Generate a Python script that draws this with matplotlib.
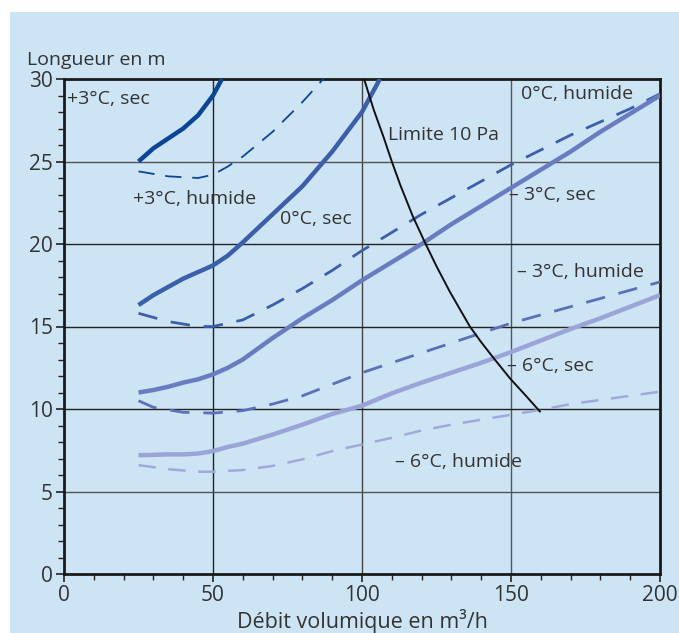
import numpy as np
import matplotlib
matplotlib.use('Agg')
import matplotlib.pyplot as plt
from matplotlib.patches import Rectangle

plt.rcParams['font.family'] = ['Open Sans', 'DejaVu Sans']

#%% data (x: m3/h, y: m)
x_p3_sec = [25, 30, 35, 40, 45, 50, 53]
y_p3_sec = [25.0, 25.8, 26.4, 27.0, 27.8, 29.0, 30.0]

x_p3_hum = [25, 35, 45, 50, 55, 60, 70, 80, 87]
y_p3_hum = [24.4, 24.1, 24.0, 24.2, 24.7, 25.3, 26.8, 28.6, 30.0]

x_0_sec = [25, 30, 35, 40, 45, 50, 55, 60, 70, 80, 90, 100, 106]
y_0_sec = [16.3, 16.9, 17.4, 17.9, 18.3, 18.7, 19.3, 20.1, 21.8, 23.5, 25.6, 28.0, 30.0]

x_0_hum = [25, 35, 45, 50, 60, 70, 80, 90, 100, 110, 120, 130, 140, 150, 160, 170, 180, 190, 200]
y_0_hum = [15.8, 15.3, 15.0, 15.0, 15.4, 16.3, 17.3, 18.4, 19.6, 20.7, 21.8, 22.8, 23.8, 24.8, 25.7, 26.6, 27.4, 28.2, 29.1]

x_m3_sec = [25, 30, 35, 40, 45, 50, 55, 60, 70, 80, 90, 100, 110, 120, 130, 140, 150, 160, 170, 180, 190, 200]
y_m3_sec = [11.0, 11.15, 11.35, 11.6, 11.8, 12.1, 12.5, 13.0, 14.3, 15.5, 16.6, 17.8, 18.9, 20.0, 21.2, 22.3, 23.4, 24.5, 25.6, 26.8, 27.9, 29.0]

x_m3_hum = [25, 30, 40, 50, 60, 70, 80, 90, 100, 110, 120, 130, 140, 150, 160, 170, 180, 190, 200]
y_m3_hum = [10.5, 10.1, 9.8, 9.75, 9.9, 10.3, 10.8, 11.5, 12.2, 12.8, 13.4, 14.0, 14.6, 15.2, 15.7, 16.2, 16.7, 17.2, 17.7]

x_m6_sec = [25, 30, 35, 40, 45, 50, 55, 60, 70, 80, 90, 100, 110, 120, 130, 140, 150, 160, 170, 180, 190, 200]
y_m6_sec = [7.2, 7.22, 7.25, 7.25, 7.3, 7.45, 7.7, 7.9, 8.45, 9.05, 9.7, 10.2, 10.95, 11.6, 12.2, 12.8, 13.45, 14.15, 14.85, 15.5, 16.2, 16.9]

x_m6_hum = [25, 35, 45, 50, 60, 70, 80, 90, 100, 110, 120, 130, 140, 150, 160, 170, 180, 190, 200]
y_m6_hum = [6.6, 6.35, 6.2, 6.2, 6.3, 6.55, 6.95, 7.45, 7.85, 8.25, 8.7, 9.05, 9.35, 9.65, 9.95, 10.3, 10.55, 10.8, 11.05]

# "Limite 10 Pa"
x_lim = [100.7, 104, 107.2, 110, 112.8, 117, 121.1, 125, 129.5, 133, 136.2, 140, 144.1, 149.7, 155, 159.7]
y_lim = [30.0, 28.1, 26.5, 25.0, 23.6, 21.7, 20.1, 18.65, 17.1, 16.0, 15.0, 14.05, 13.1, 11.85, 10.8, 9.85]

#%% figure
bg = '#cde4f5'
txt = '#333333'
fig = plt.figure(figsize=(6.79, 6.33), dpi=100)
# light blue panel, leaving a white strip at the top and left
bgrect = Rectangle((10/679, 0), 1, 621/633, transform=fig.transFigure,
                   facecolor=bg, edgecolor='none', zorder=-10)
fig.add_artist(bgrect)
ax = fig.add_axes([64/679, 59/633, 596/679, 495/633])
ax.set_facecolor(bg)

ax.set_xlim(0, 200)
ax.set_ylim(0, 30)
ax.set_xticks([0, 50, 100, 150, 200])
ax.set_yticks([0, 5, 10, 15, 20, 25, 30])
ax.set_xticks(np.arange(0, 201, 10), minor=True)
ax.set_yticks(np.arange(0, 31, 1), minor=True)
ax.tick_params(which='major', length=6, width=1.2, color='#222222', labelsize=15, labelcolor=txt, pad=2)
ax.tick_params(which='minor', length=4, width=1.0, color='#222222')
for s in ax.spines.values():
    s.set_linewidth(2)
    s.set_color('#1a1a1a')

# grid lines, some darker than others in the original
for xv, c in zip([50, 100, 150], ['#222222', '#444444', '#555555']):
    ax.axvline(xv, color=c, lw=1, zorder=1)
for yv, c in zip([5, 10, 15, 20, 25], ['#555555', '#222222', '#222222', '#222222', '#555555']):
    ax.axhline(yv, color=c, lw=1, zorder=1)

c_dark = '#0b4596'
c_med = '#3b5fa9'
c_m3 = '#6a7cbf'
c_m6 = '#9aa4d6'

ax.plot(x_p3_sec, y_p3_sec, color=c_dark, lw=3.2, solid_capstyle='butt', zorder=3)
ax.plot(x_p3_hum, y_p3_hum, color=c_dark, lw=1.3, dashes=(9, 6), zorder=3)
ax.plot(x_0_sec, y_0_sec, color=c_med, lw=3.2, solid_capstyle='butt', zorder=3)
ax.plot(x_0_hum, y_0_hum, color=c_med, lw=2.0, dashes=(7, 5), zorder=3)
ax.plot(x_m3_sec, y_m3_sec, color=c_m3, lw=3.2, solid_capstyle='butt', zorder=3)
ax.plot(x_m3_hum, y_m3_hum, color='#5c70b7', lw=2.0, dashes=(7, 5), zorder=3)
ax.plot(x_m6_sec, y_m6_sec, color=c_m6, lw=3.2, solid_capstyle='butt', zorder=3)
ax.plot(x_m6_hum, y_m6_hum, color='#a0a9da', lw=1.8, dashes=(7, 5), zorder=3)
ax.plot(x_lim, y_lim, color='#111111', lw=1.4, zorder=4)

fs = 14
labels = [
    (1, 28.8, '+3°C, sec'),
    (23.2, 22.7, '+3°C, humide'),
    (72.5, 21.5, '0°C, sec'),
    (108.7, 26.6, 'Limite 10 Pa'),
    (153.4, 29.1, '0°C, humide'),
    (149.3, 23.0, '– 3°C, sec'),
    (152, 18.3, '– 3°C, humide'),
    (148.7, 12.6, '– 6°C, sec'),
    (111, 6.8, '– 6°C, humide'),
]
for lx, ly, lt in labels:
    ax.text(lx, ly, lt, fontsize=fs, color=txt, ha='left', va='center', zorder=5)

fig.text(27/679, 1 - 60/633, 'Longueur en m', fontsize=fs, color=txt, ha='left', va='center')
ax.set_xlabel('Débit volumique en m³/h', fontsize=15.5, color=txt, va='center')
ax.xaxis.set_label_coords(0.5, -47/495)

plt.savefig('out.png', dpi=100, facecolor='white')
